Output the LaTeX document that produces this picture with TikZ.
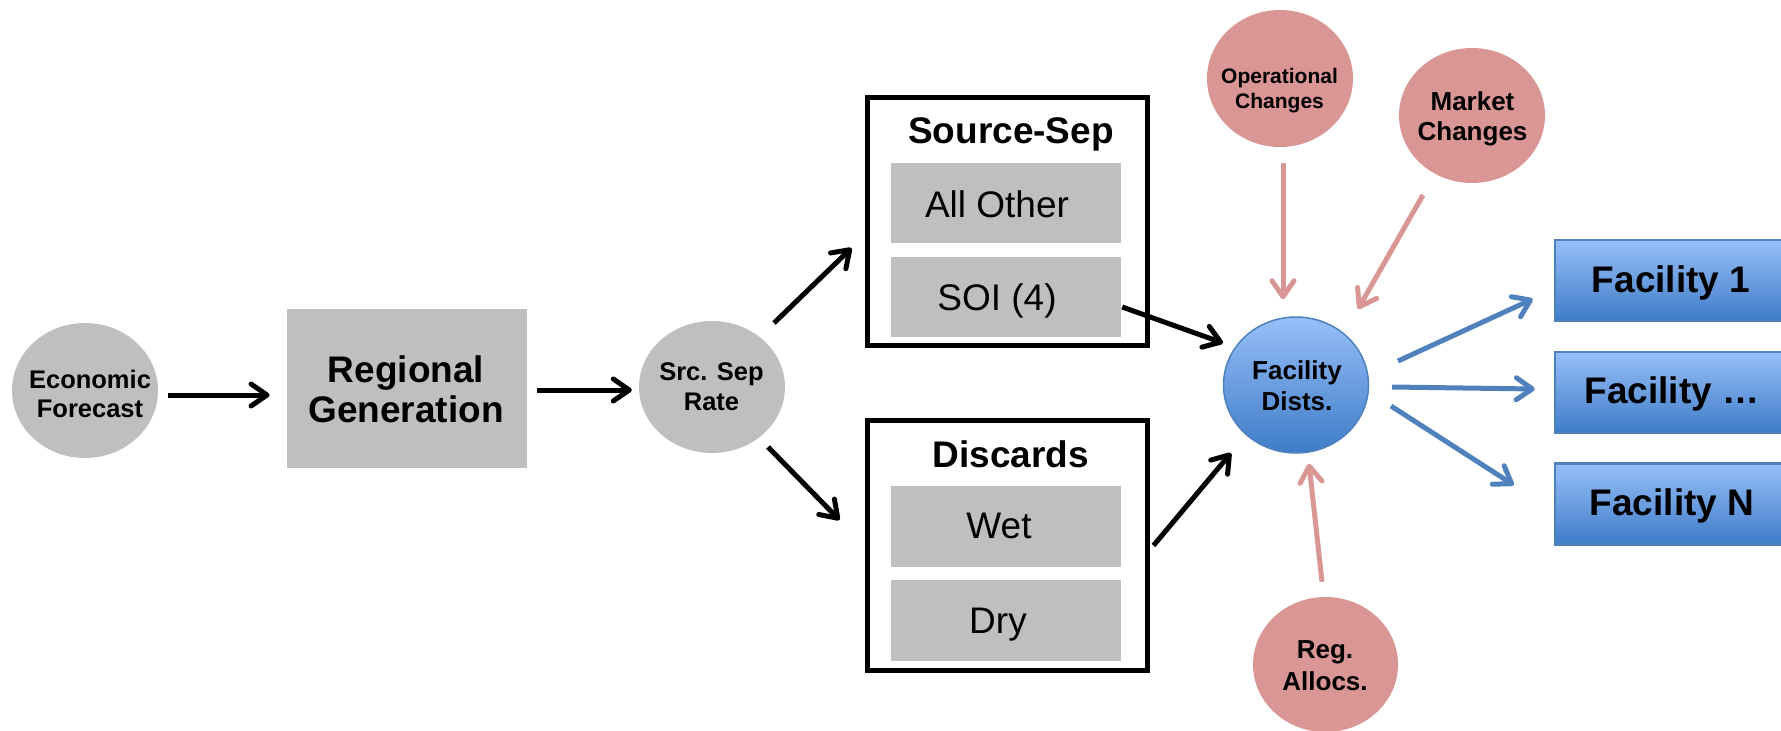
\documentclass[tikz,border=0pt]{standalone}
\usepackage{fontspec}
\setmainfont{Liberation Sans}
\usetikzlibrary{arrows.meta,shapes.geometric}
\definecolor{gbox}{RGB}{191,191,191}
\definecolor{pinkc}{RGB}{217,150,148}
\definecolor{bluel}{RGB}{79,129,189}
\definecolor{btop}{RGB}{151,191,248}
\definecolor{bbot}{RGB}{62,124,200}
\begin{document}
\begin{tikzpicture}[x=1pt,y=-1pt,
  grayell/.style={ellipse,fill=gbox,inner sep=0,minimum width=146,minimum height=134},
  pinkell/.style={ellipse,fill=pinkc,inner sep=0,minimum width=146,minimum height=136},
  blueell/.style={ellipse,top color=btop,bottom color=bbot,draw=bluel,line width=1.5,inner sep=0,minimum width=145,minimum height=136},
  grect/.style={rectangle,fill=gbox,inner sep=0,minimum width=230,minimum height=80},
  frame/.style={rectangle,draw=black,line width=5,inner sep=0,minimum width=280},
  fac/.style={rectangle,top color=btop,bottom color=bbot,draw=bluel,line width=2.5,inner sep=0,minimum width=235,minimum height=81},
  tmid/.style={font=\bfseries\fontsize{25.5}{30}\selectfont,align=center,inner sep=0,anchor=base},
  tsmall/.style={font=\bfseries\fontsize{21}{25}\selectfont,align=center,inner sep=0,anchor=base},
  tbig/.style={font=\bfseries\fontsize{37}{40}\selectfont,align=center,inner sep=0,anchor=base},
  treg/.style={font=\fontsize{37}{40}\selectfont,inner sep=0,anchor=base},
  blk/.style={draw=black,line width=5,-{Straight Barb[length=16pt,width=22pt,round]}},
  pnk/.style={draw=pinkc,line width=5,-{Straight Barb[length=16pt,width=22pt,round]}},
  blu/.style={draw=bluel,line width=5,-{Straight Barb[length=16pt,width=22pt,round]}}
]
\useasboundingbox (0,0) rectangle (1781,731);
\begin{scope}
\clip (0,0) rectangle (1781,731);
% shapes
\node[grayell,minimum height=135] (econ) at (85,390.5) {};
\node[rectangle,fill=gbox,inner sep=0,minimum width=239.5,minimum height=159] (rg) at (407,388.5) {};
\node[grayell,minimum height=132] (ss) at (712,387) {};
\node[frame,minimum height=248] (sbox) at (1007.5,221.5) {};
\node[grect] (aoth) at (1006,203) {};
\node[grect] (soi) at (1006,297) {};
\node[frame,minimum height=250] (dbox) at (1007.5,545.5) {};
\node[grect,minimum height=81] (wet) at (1006,526.5) {};
\node[grect,minimum height=81] (dry) at (1006,620.5) {};
\node[blueell] (fd) at (1296,385) {};
\node[pinkell,minimum height=137] (op) at (1280,78.5) {};
\node[pinkell,minimum height=135] (mk) at (1472,115.5) {};
\node[pinkell,minimum width=145,minimum height=135] (ra) at (1325.5,664.5) {};
\node[fac] (f1) at (1672.5,280.5) {};
\node[fac] (f2) at (1672.5,392.5) {};
\node[fac] (fN) at (1672.5,504) {};
% texts (anchor=base sits on the last line's baseline)
\node[tmid,font=\bfseries\fontsize{25.5}{29}\selectfont] (econT) at (90,417) {Economic\\Forecast};
\node[tbig] (rgT) at (406,422) {Regional\\Generation};
\node[tmid] (ssT) at (711.5,410) {Src. Sep\\Rate};
\node[tbig] (sboxT) at (1011,143) {Source-Sep};
\node[treg] (aothT) at (997,217) {All Other};
\node[treg] (soiT) at (997,310) {SOI (4)};
\node[tbig] (dboxT) at (1011,467) {Discards};
\node[treg] (wetT) at (999,538) {Wet};
\node[treg] (dryT) at (998,633) {Dry};
\node[tmid,font=\bfseries\fontsize{26}{31}\selectfont] (fdT) at (1297,410) {Facility\\Dists.};
\node[tsmall] (opT) at (1279.5,108) {Operational\\Changes};
\node[tmid,font=\bfseries\fontsize{26}{30}\selectfont] (mkT) at (1472.5,140) {Market\\Changes};
\node[tmid,font=\bfseries\fontsize{26}{32}\selectfont] (raT) at (1325,690) {Reg.\\Allocs.};
\node[tbig] (f1T) at (1671,292) {Facility 1};
\node[tbig] (f2T) at (1672,403) {Facility …};
\node[tbig] (fNT) at (1672,515) {Facility N};
% connectors
\draw[blk] ([shift={(10,4.5)}]econ.east) -- ([shift={(-17.5,6.5)}]rg.west);
\draw[blk] ([shift={(10,1.5)}]rg.east) -- ([shift={(-7,3)}]ss.west);
\draw[blk] ([shift={(62,-64)}]ss.center) -- ([shift={(-13.5,26.5)}]sbox.west);
\draw[blk] ([shift={(56,60)}]ss.center) -- ([shift={(-25.5,-25.5)}]dbox.west);
\draw[blk] ([shift={(1,10)}]soi.east) -- ([shift={(-73,-42)}]fd.center);
\draw[blk] ([shift={(3.5,0)}]dbox.east) -- ([shift={(-65,68)}]fd.center);
\draw[pnk] ([shift={(3,16)}]op.south) -- ([shift={(-13,-17)}]fd.north);
\draw[pnk] ([shift={(-49,79.5)}]mk.center) -- ([shift={(62,-76)}]fd.center);
\draw[pnk] ([shift={(-3.5,-15)}]ra.north) -- ([shift={(13,10)}]fd.south);
\draw[blu] ([shift={(102,-24)}]fd.center) -- ([shift={(-21,18.5)}]f1.west);
\draw[blu] ([shift={(96,2)}]fd.center) -- ([shift={(-19,-3.5)}]f2.west);
\draw[blu] ([shift={(95,21)}]fd.center) -- ([shift={(-40,-19)}]fN.west);
\end{scope}
\end{tikzpicture}
\end{document}
